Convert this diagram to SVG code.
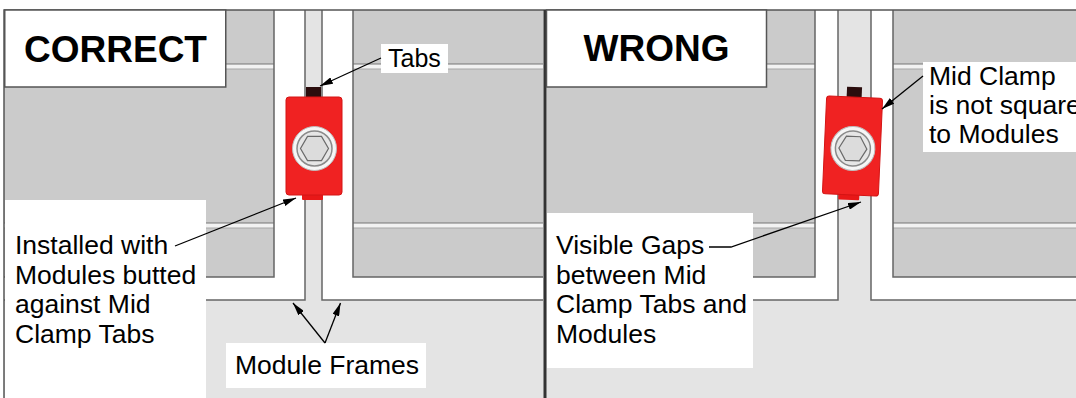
<svg xmlns="http://www.w3.org/2000/svg" width="1076" height="398" viewBox="0 0 1076 398">
<style>
.mod{fill:#cbcbcb;}
.frm{fill:#ffffff;}
.edge{fill:none;stroke:#666666;stroke-width:1.5;}
.seam{fill:#f2f2f2;}
.seamTop{stroke:#777777;stroke-width:1.2;}
.seamBot{stroke:#a8a8a8;stroke-width:1;}
.box{fill:#ffffff;}
.tbox{fill:#ffffff;stroke:#555555;stroke-width:1.5;}
.lbl{font-family:"Liberation Sans",Arial,Helvetica,sans-serif;font-size:26.5px;fill:#000000;}
.ttl{font-family:"Liberation Sans",Arial,Helvetica,sans-serif;font-size:37px;font-weight:bold;fill:#000000;text-anchor:middle;}
.conn{fill:none;stroke:#000000;stroke-width:1.3;}
</style>
<defs>
<marker id="ah" viewBox="0 0 13 7" refX="13" refY="3.5" markerWidth="13" markerHeight="7" markerUnits="userSpaceOnUse" orient="auto">
<path d="M0,0 L13,3.5 L0,7 z" fill="#000000"/>
</marker>
<g id="clampShape">
<rect x="-8" y="-59" width="15" height="11" fill="#2b0d0d"/>
<rect x="-12" y="46" width="21" height="8" rx="1" fill="#e81818"/>
<rect x="-28" y="-49" width="56" height="98" rx="3" fill="#f02222" stroke="#d41414" stroke-width="1"/>
<circle cx="0.5" cy="2.5" r="22" fill="#f6f6f6" stroke="#bdbdbd" stroke-width="1"/>
<circle cx="0.5" cy="2.5" r="17.5" fill="#e6e6e6" stroke="#8a8a8a" stroke-width="1.5"/>
<polygon points="14.5,2.5 7.5,14.6 -6.5,14.6 -13.5,2.5 -6.5,-9.6 7.5,-9.6" fill="#dcdcdc" stroke="#6a6a6a" stroke-width="1.2"/>
</g>
</defs>

<rect x="0" y="0" width="1076" height="398" fill="#ffffff"/>
<rect x="4" y="10" width="1072" height="388" fill="#e4e4e4"/>

<g id="left-panel-modules">
<rect class="frm" x="4" y="10" width="301" height="290"/>
<rect class="mod" x="4" y="10" width="270" height="267"/>
<rect class="seam" x="4" y="64" width="270" height="5"/>
<rect class="seam" x="4" y="223" width="270" height="5"/>
<line class="seamTop" x1="4" y1="64" x2="274" y2="64"/>
<line class="seamBot" x1="4" y1="69" x2="274" y2="69"/>
<line class="seamTop" x1="4" y1="223" x2="274" y2="223"/>
<line class="seamBot" x1="4" y1="228" x2="274" y2="228"/>
<path class="edge" d="M274,10 V277 H4 M305,10 V300 H4"/>

<rect class="frm" x="322" y="10" width="221" height="290"/>
<rect class="mod" x="353" y="10" width="190" height="267"/>
<rect class="seam" x="353" y="64" width="190" height="5"/>
<rect class="seam" x="353" y="223" width="190" height="5"/>
<line class="seamTop" x1="353" y1="64" x2="543" y2="64"/>
<line class="seamBot" x1="353" y1="69" x2="543" y2="69"/>
<line class="seamTop" x1="353" y1="223" x2="543" y2="223"/>
<line class="seamBot" x1="353" y1="228" x2="543" y2="228"/>
<path class="edge" d="M353,10 V277 H543 M322,10 V300 H543"/>
</g>

<g id="right-panel-modules">
<rect class="frm" x="547" y="10" width="291" height="290"/>
<rect class="mod" x="547" y="10" width="268" height="267"/>
<rect class="seam" x="547" y="64" width="268" height="5"/>
<rect class="seam" x="547" y="223" width="268" height="5"/>
<line class="seamTop" x1="547" y1="64" x2="815" y2="64"/>
<line class="seamBot" x1="547" y1="69" x2="815" y2="69"/>
<line class="seamTop" x1="547" y1="223" x2="815" y2="223"/>
<line class="seamBot" x1="547" y1="228" x2="815" y2="228"/>
<path class="edge" d="M815,10 V277 H547 M838,10 V300 H547"/>

<rect class="frm" x="871" y="10" width="205" height="290"/>
<rect class="mod" x="893" y="10" width="183" height="267"/>
<rect class="seam" x="893" y="64" width="183" height="5"/>
<rect class="seam" x="893" y="223" width="183" height="5"/>
<line class="seamTop" x1="893" y1="64" x2="1076" y2="64"/>
<line class="seamBot" x1="893" y1="69" x2="1076" y2="69"/>
<line class="seamTop" x1="893" y1="223" x2="1076" y2="223"/>
<line class="seamBot" x1="893" y1="228" x2="1076" y2="228"/>
<path class="edge" d="M893,10 V277 H1076 M871,10 V300 H1076"/>
</g>

<g id="border">
<path d="M4,398 V10 H1076" fill="none" stroke="#555555" stroke-width="1.5"/>
<rect x="543.5" y="10" width="3" height="388" fill="#333333"/>
</g>

<g id="clamp-correct" transform="translate(314,146)">
<use href="#clampShape"/>
</g>
<g id="clamp-wrong" transform="translate(852.5,146) rotate(2.5)">
<use href="#clampShape"/>
</g>

<g id="title-correct">
<rect class="tbox" x="4.75" y="10" width="221" height="77"/>
<text class="ttl" x="115.5" y="62">CORRECT</text>
</g>
<g id="title-wrong">
<rect class="tbox" x="546.5" y="10" width="220" height="77"/>
<text class="ttl" x="656.5" y="61">WRONG</text>
</g>

<g id="label-tabs">
<rect class="box" x="381" y="44" width="67" height="29"/>
<text class="lbl" x="388" y="66.5" style="font-size:25px">Tabs</text>
</g>
<g id="label-installed">
<rect class="box" x="5" y="200" width="201" height="198"/>
<text class="lbl" x="15" y="254">Installed with</text>
<text class="lbl" x="15" y="284">Modules butted</text>
<text class="lbl" x="15" y="313">against Mid</text>
<text class="lbl" x="15" y="343">Clamp Tabs</text>
</g>
<g id="label-frames">
<rect class="box" x="226" y="343" width="200" height="45"/>
<text class="lbl" x="235" y="374">Module Frames</text>
</g>
<g id="label-gaps">
<rect class="box" x="547" y="213" width="206" height="155"/>
<text class="lbl" x="556" y="254">Visible Gaps</text>
<text class="lbl" x="556" y="284">between Mid</text>
<text class="lbl" x="556" y="313">Clamp Tabs and</text>
<text class="lbl" x="556" y="343">Modules</text>
</g>
<g id="label-notsquare">
<rect class="box" x="923" y="62" width="153" height="90"/>
<text class="lbl" x="929" y="85">Mid Clamp</text>
<text class="lbl" x="929" y="114">is not square</text>
<text class="lbl" x="929" y="143">to Modules</text>
</g>

<g id="connectors">
<line class="conn" x1="381" y1="58" x2="320" y2="86" marker-end="url(#ah)"/>
<line class="conn" x1="175" y1="246" x2="296" y2="198" marker-end="url(#ah)"/>
<line class="conn" x1="325" y1="343" x2="293" y2="303" marker-end="url(#ah)"/>
<line class="conn" x1="325" y1="343" x2="340.5" y2="303" marker-end="url(#ah)"/>
<polyline class="conn" points="709,247 731,247 861,202" marker-end="url(#ah)"/>
<line class="conn" x1="923" y1="76" x2="882" y2="109" marker-end="url(#ah)"/>
</g>
</svg>
